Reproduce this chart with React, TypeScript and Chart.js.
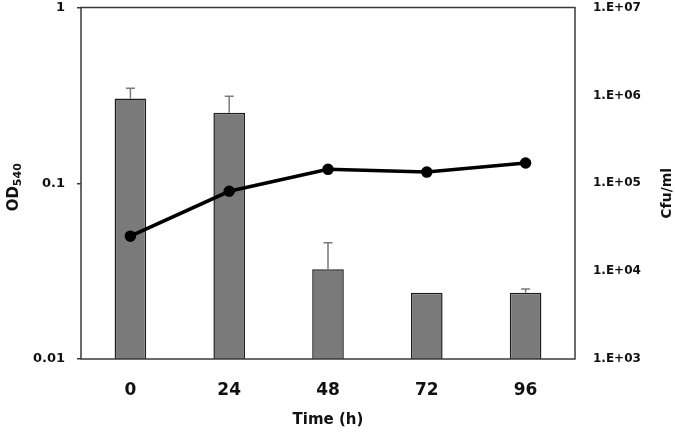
import React, { useEffect, useRef } from "react";
import { Chart, registerables } from "chart.js";

Chart.register(...registerables);

const timeLabels = ["0", "24", "48", "72", "96"];
const odValues = [0.304, 0.252, 0.0324, 0.0238, 0.0238];
const odErrors = [0.043, 0.061, 0.0134, 0, 0.0012];
const cfuValues = [2.5e4, 8.1e4, 1.44e5, 1.34e5, 1.7e5];
const leftTicks = [0.01, 0.1, 1];
const leftTickLabels = ["0.01", "0.1", "1"];
const rightTicks = [1e3, 1e4, 1e5, 1e6, 1e7];
const rightTickLabels = ["1.E+03", "1.E+04", "1.E+05", "1.E+06", "1.E+07"];

const FONT = "'DejaVu Sans', sans-serif";

const boxPlugin = {
  id: "boxPlugin",
  afterDatasetsDraw(chart: any) {
    const { ctx, chartArea: a } = chart;
    ctx.save();
    ctx.strokeStyle = "#3a3a3a";
    ctx.lineWidth = 1.5;
    ctx.strokeRect(a.left, a.top, a.right - a.left, a.bottom - a.top);
    ctx.restore();
  },
};

const errorBarPlugin = {
  id: "errorBarPlugin",
  afterDatasetDraw(chart: any, args: any) {
    if (args.index !== 1) return;
    const meta = args.meta;
    const scale = chart.scales.y;
    const ctx = chart.ctx;
    ctx.save();
    ctx.strokeStyle = "#7a7a7a";
    ctx.lineWidth = 1.5;
    meta.data.forEach((el: any, i: number) => {
      const err = odErrors[i];
      if (!err) return;
      const yTop = scale.getPixelForValue(odValues[i] + err);
      const yBar = scale.getPixelForValue(odValues[i]);
      ctx.beginPath();
      ctx.moveTo(el.x, yBar);
      ctx.lineTo(el.x, yTop);
      ctx.moveTo(el.x - 4.5, yTop);
      ctx.lineTo(el.x + 4.5, yTop);
      ctx.stroke();
    });
    ctx.restore();
  },
};

const titlePlugin = {
  id: "titlePlugin",
  afterDraw(chart: any) {
    const { ctx, chartArea: a } = chart;
    const cy = (a.top + a.bottom) / 2;
    ctx.save();
    ctx.fillStyle = "#111";
    ctx.translate(18, cy + 4);
    ctx.rotate(-Math.PI / 2);
    ctx.font = `bold 15px ${FONT}`;
    ctx.textBaseline = "alphabetic";
    ctx.textAlign = "left";
    const odW = ctx.measureText("OD").width;
    ctx.font = `bold 11px ${FONT}`;
    const subW = ctx.measureText("540").width;
    const startX = -(odW + subW) / 2;
    ctx.font = `bold 15px ${FONT}`;
    ctx.fillText("OD", startX, 0);
    ctx.font = `bold 11px ${FONT}`;
    ctx.fillText("540", startX + odW, 3);
    ctx.restore();

    ctx.save();
    ctx.fillStyle = "#111";
    ctx.translate(671, cy + 10);
    ctx.rotate(-Math.PI / 2);
    ctx.font = `bold 14px ${FONT}`;
    ctx.textAlign = "center";
    ctx.textBaseline = "alphabetic";
    ctx.fillText("Cfu/ml", 0, 0);
    ctx.restore();

    ctx.save();
    ctx.fillStyle = "#111";
    ctx.font = `bold 15px ${FONT}`;
    ctx.textAlign = "center";
    ctx.textBaseline = "middle";
    ctx.fillText("Time (h)", (a.left + a.right) / 2, 420);
    ctx.restore();
  },
};

const zeroPad = (s: any) => {
  s.paddingTop = 0;
  s.paddingBottom = 0;
  s.paddingLeft = 0;
  s.paddingRight = 0;
};

export default function App() {
  const ref = useRef<HTMLCanvasElement | null>(null);
  useEffect(() => {
    if (!ref.current) return;
    const chart = new Chart(ref.current, {
      type: "bar",
      data: {
        labels: timeLabels,
        datasets: [
          {
            type: "line",
            label: "Cfu/ml",
            data: cfuValues,
            yAxisID: "y2",
            borderColor: "#000",
            backgroundColor: "#000",
            borderWidth: 3.5,
            pointRadius: 4,
            pointBackgroundColor: "#000",
            pointBorderColor: "#000",
            order: 0,
          } as any,
          {
            type: "bar",
            label: "OD540",
            data: odValues,
            yAxisID: "y",
            backgroundColor: "#7a7a7a",
            borderColor: "#1e1e1e",
            borderWidth: 1.5,
            categoryPercentage: 1,
            barPercentage: 0.32,
            order: 1,
          } as any,
        ],
      },
      options: {
        animation: false,
        responsive: false,
        maintainAspectRatio: false,
        layout: { padding: { top: 7, left: 0, right: 0, bottom: 0 } },
        plugins: {
          legend: { display: false },
          tooltip: { enabled: false },
        },
        scales: {
          x: {
            type: "category",
            offset: true,
            grid: { display: false, drawTicks: false },
            border: { display: false },
            ticks: {
              padding: 21,
              color: "#111",
              font: { family: FONT, size: 17, weight: "bold" },
            },
            afterFit: (s: any) => {
              s.height = 75;
              zeroPad(s);
            },
          },
          y: {
            type: "logarithmic",
            position: "left",
            min: 0.01,
            max: 1,
            border: { display: false },
            grid: {
              display: true,
              drawOnChartArea: false,
              drawTicks: true,
              tickLength: 4,
              color: "#3a3a3a",
              lineWidth: 1.5,
            },
            afterBuildTicks: (s: any) => {
              s.ticks = leftTicks.map((v) => ({ value: v }));
            },
            ticks: {
              padding: 12,
              color: "#111",
              font: { family: FONT, size: 13, weight: "bold" },
              callback: (v: any) => {
                const i = leftTicks.indexOf(Number(v));
                return i >= 0 ? leftTickLabels[i] : "";
              },
            },
            afterFit: (s: any) => {
              s.width = 81;
              zeroPad(s);
            },
          },
          y2: {
            type: "logarithmic",
            position: "right",
            min: 1e3,
            max: 1e7,
            border: { display: false },
            grid: { display: false, drawTicks: false },
            afterBuildTicks: (s: any) => {
              s.ticks = rightTicks.map((v) => ({ value: v }));
            },
            ticks: {
              padding: 18,
              color: "#111",
              font: { family: FONT, size: 12, weight: "bold" },
              callback: (v: any) => {
                const i = rightTicks.indexOf(Number(v));
                return i >= 0 ? rightTickLabels[i] : "";
              },
            },
            afterFit: (s: any) => {
              s.width = 100;
              zeroPad(s);
            },
          },
        },
      } as any,
      plugins: [errorBarPlugin, boxPlugin, titlePlugin],
    });
    return () => chart.destroy();
  }, []);
  return (
    <div style={{ position: "absolute", left: 0, top: 0, width: 675, height: 434, background: "#fff" }}>
      <canvas ref={ref} width={675} height={434} style={{ width: 675, height: 434 }} />
    </div>
  );
}
